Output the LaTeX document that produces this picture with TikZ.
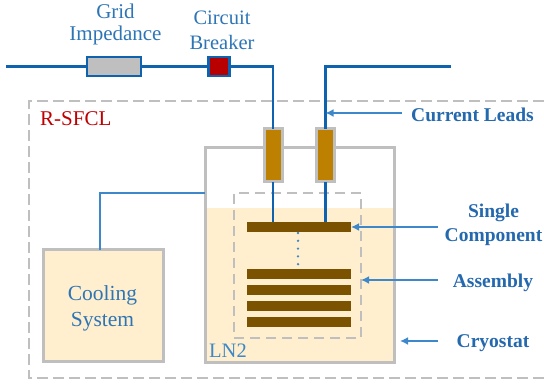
\documentclass[tikz,border=0pt]{standalone}
\usepackage{fontspec}
\setmainfont{Liberation Serif}
\usetikzlibrary{arrows.meta}
\definecolor{wireblue}{HTML}{0F62AE}
\definecolor{lineblue}{HTML}{3C88CA}
\definecolor{textblue}{HTML}{2E75B6}
\definecolor{labelblue}{HTML}{2468AE}
\definecolor{cream}{HTML}{FFEFCE}
\definecolor{frame}{HTML}{BFBFBF}
\definecolor{gold}{HTML}{BD8000}
\definecolor{barbrown}{HTML}{7A5200}
\definecolor{breakerred}{HTML}{B90000}
\definecolor{sfclred}{HTML}{C00000}
\tikzset{
  box/.style={inner sep=0pt,outer sep=0pt,rectangle},
  wire/.style={draw=wireblue,line width=2.6pt},
  coolwire/.style={draw=lineblue,line width=2.6pt},
  gridelem/.style={box,draw=wireblue,line width=2.8pt},
  leadbox/.style={box,draw=frame,fill=gold,line width=3pt,minimum width=18pt,minimum height=53pt},
  bar/.style={box,fill=barbrown,minimum width=104pt,minimum height=10pt},
  grayframe/.style={box,draw=frame,line width=3pt},
  dashframe/.style={draw=frame,line width=2pt},
  pointer/.style={draw=lineblue,line width=2.2pt,-{Latex[length=8pt,width=8pt]}},
  toplabel/.style={inner sep=0pt,text=textblue,font=\fontsize{21}{22}\selectfont,align=center},
  sidelabel/.style={inner sep=0pt,text=labelblue,font=\fontsize{19.5}{24}\selectfont\bfseries,align=center},
  dotline/.style={draw=lineblue,line width=2.6pt,line cap=round,dash pattern=on 0pt off 7.8pt}
}
\begin{document}
\begin{tikzpicture}[x=1pt,y=-1pt]
\useasboundingbox (0,0) rectangle (544,387);
% outer dashed R-SFCL frame
\draw[dashframe,dash pattern=on 11pt off 5pt] (544,101) -- (29,101) -- (29,378) -- (544,378);
% liquid nitrogen
\fill[cream] (205,208) rectangle (394,363);
% cryostat, assembly frame
\node[grayframe,minimum width=189pt,minimum height=215pt] (cryo) at (299.5,255.5) {};
\node[box,dashframe,dash pattern=on 10pt off 6pt,minimum width=127pt,minimum height=145pt] (assembly) at (297.5,265.5) {};
% cooling
\node[grayframe,fill=cream,minimum width=120pt,minimum height=112pt] (cool) at (103,306) {};
\node[inner sep=0pt,text=textblue,align=center,font=\fontsize{21.5}{26}\selectfont] (coollab) at (102.5,308) {Cooling\\System};
% leads and bars
\node[leadbox] (leadA) at (273,155.5) {};
\node[leadbox] (leadB) at (325.5,155.5) {};
\node[bar] (single) at (299,227) {};
\node[bar] (a1) at (299,274) {};
\node[bar] (a2) at (299,290) {};
\node[bar] (a3) at (299,306) {};
\node[bar] (a4) at (299,322) {};
% grid elements
\node[gridelem,fill=frame,minimum width=54pt,minimum height=19pt] (imp) at (114,66.5) {};
\node[gridelem,fill=breakerred,minimum width=21pt,minimum height=19pt] (cb) at (219,66.5) {};
\coordinate (gridL) at (6,66.5);
\coordinate (gridR) at (451,66.5);
\coordinate (dotsTop) at (298,233);
\coordinate (dotsBot) at (298,265);
% connectors
\draw[wire] (gridL) -- (imp.west);
\draw[wire] (imp.east) -- (cb.west);
\draw[wire] (cb.east) -| (leadA.north);
\draw[wire] (leadB.north) |- (gridR);
\draw[wire] (leadA.south) -- (leadA.south |- single.north);
\draw[wire] (leadB.south) -- (leadB.south |- single.north);
\coordinate (cryoTap) at (cryo.west |- 0,193);
\draw[coolwire] (cool.north -| 100,0) |- (cryoTap);
\draw[dotline] (dotsTop) -- (dotsBot);
% labels
\node[toplabel] (gridlab) at (115.5,24) {Grid\\Impedance};
\node[toplabel,font=\fontsize{20.5}{25}\selectfont] (cblab) at (222,30.5) {Circuit\\Breaker};
\node[anchor=west,inner sep=0pt,text=sfclred,font=\fontsize{21}{23}\selectfont] (sfcl) at (40,118.5) {R-SFCL};
\node[anchor=west,inner sep=0pt,text=lineblue,font=\fontsize{20.5}{23}\selectfont] (ln) at (209,351) {LN2};
\node[sidelabel] (curr) at (472.5,114.5) {Current Leads};
\node[sidelabel] (singlab) at (493.5,225) {Single\\Component};
\node[sidelabel] (asslab) at (493,283) {Assembly};
\node[sidelabel] (cryolab) at (493,343.5) {Cryostat};
% pointers
\coordinate (p1) at (402,113);
\coordinate (p2) at (438,227);
\coordinate (p3) at (438,280);
\coordinate (p4) at (438,341);
\coordinate (t4) at (400,341);
\draw[pointer] (p1) -- (leadB.north |- p1);
\draw[pointer] (p2) -- (single.east);
\draw[pointer] (p3) -- (assembly.east |- p3);
\draw[pointer] (p4) -- (t4);
\end{tikzpicture}
\end{document}
